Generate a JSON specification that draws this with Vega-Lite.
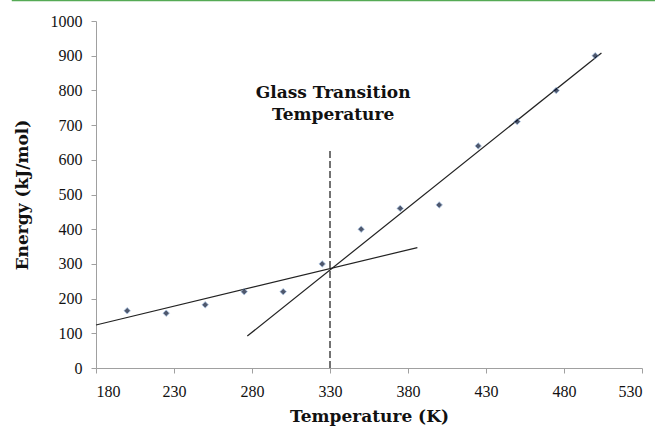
{
  "$schema": "https://vega.github.io/schema/vega-lite/v6.json",
  "width": 546,
  "height": 347,
  "autosize": "none",
  "padding": {"left": 96, "top": 21, "right": 13, "bottom": 64},
  "background": "white",
  "config": {
    "view": {"stroke": null},
    "font": "Liberation Serif",
    "axis": {
      "domainColor": "#a0a0a0",
      "tickColor": "#a0a0a0",
      "labelColor": "#111",
      "titleColor": "#111",
      "labelFont": "Liberation Serif",
      "titleFont": "DejaVu Serif",
      "labelFontSize": 16,
      "titleFontSize": 17,
      "titleFontWeight": "bold",
      "grid": false,
      "tickSize": 5
    }
  },
  "encoding": {
    "x": {
      "field": "x", "type": "quantitative",
      "scale": {"domain": [180, 530], "nice": false, "zero": false},
      "axis": {"values": [180, 230, 280, 330, 380, 430, 480, 530], "title": "Temperature (K)", "titlePadding": 9, "labelPadding": 10, "labelOverlap": false, "format": "d"}
    },
    "y": {
      "field": "y", "type": "quantitative",
      "scale": {"domain": [0, 1000], "nice": false},
      "axis": {"values": [0, 100, 200, 300, 400, 500, 600, 700, 800, 900, 1000], "title": "Energy (kJ/mol)", "titlePadding": 19, "labelPadding": 9, "labelOverlap": false, "format": "d"}
    }
  },
  "layer": [
    {
      "data": {"values": [{"x": 126, "x2": 540, "y": 1060}]},
      "mark": {"type": "rule", "color": "#55aa55", "strokeWidth": 2, "clip": false},
      "encoding": {
        "x2": {"field": "x2"}
      }
    },
    {
      "data": {"values": [
        {"seg": "low", "x": 180, "y": 124, "x2": 386, "y2": 347},
        {"seg": "high", "x": 277, "y": 92, "x2": 504, "y2": 908}
      ]},
      "mark": {"type": "rule", "color": "#222", "strokeWidth": 1.2},
      "encoding": {
        "x2": {"field": "x2"},
        "y2": {"field": "y2"}
      }
    },
    {
      "data": {"values": [{"x": 330, "y": 0, "y2": 634}]},
      "mark": {"type": "rule", "color": "#444", "strokeWidth": 1.5, "strokeDash": [7, 3]},
      "encoding": {
        "y2": {"field": "y2"}
      }
    },
    {
      "data": {"values": [
        {"x": 200, "y": 165}, {"x": 225, "y": 158}, {"x": 250, "y": 182},
        {"x": 275, "y": 220}, {"x": 300, "y": 220}, {"x": 325, "y": 300},
        {"x": 350, "y": 400}, {"x": 375, "y": 460}, {"x": 400, "y": 470},
        {"x": 425, "y": 640}, {"x": 450, "y": 710}, {"x": 475, "y": 800},
        {"x": 500, "y": 900}
      ]},
      "mark": {"type": "point", "shape": "diamond", "filled": true, "size": 42, "color": "#061230", "stroke": "#8fb4e0", "strokeWidth": 0.8},
      "encoding": {}
    },
    {
      "data": {"values": [
        {"x": 332, "y": 792, "t": "Glass Transition"},
        {"x": 332, "y": 729, "t": "Temperature"}
      ]},
      "mark": {"type": "text", "font": "DejaVu Serif", "fontSize": 17, "fontWeight": "bold", "color": "#111", "align": "center", "baseline": "middle"},
      "encoding": {
        "text": {"field": "t"}
      }
    }
  ]
}
